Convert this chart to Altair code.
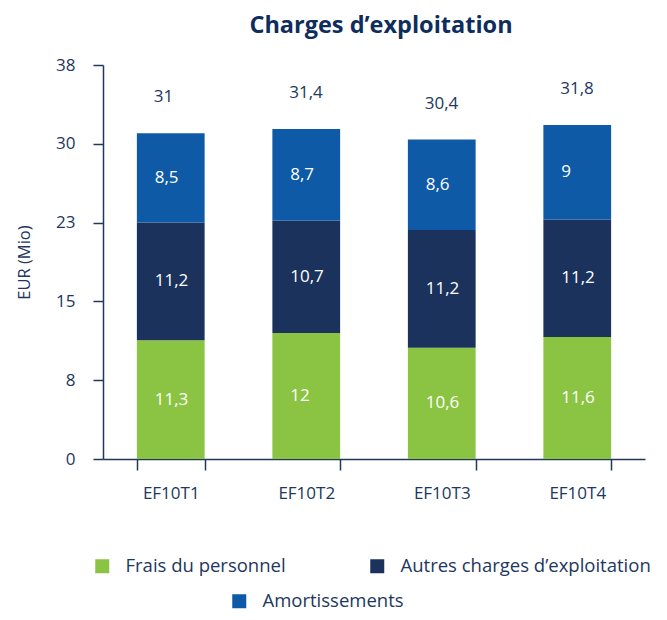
import altair as alt
import pandas as pd

quarters = ["EF10T1", "EF10T2", "EF10T3", "EF10T4"]
categories = ["Frais du personnel", "Autres charges d’exploitation", "Amortissements"]
frais = [11.3, 12, 10.6, 11.6]
autres = [11.2, 10.7, 11.2, 11.2]
amort = [8.5, 8.7, 8.6, 9]
colors = ["#8BC442", "#1B335C", "#0E5AA7"]
y_ticks = [0, 7.5, 15, 22.5, 30, 37.5]

NAVY = "#22375E"
FONT = "Open Sans"


def fr(v):
    return f"{v:g}".replace(".", ",")


rows = []
for series_i, series in enumerate([frais, autres, amort]):
    for q, v in zip(quarters, series):
        rows.append({"quarter": q, "category": categories[series_i], "value": v,
                     "order": series_i, "label": fr(v)})
df = pd.DataFrame(rows)

totals = [round(a + b + c, 1) for a, b, c in zip(frais, autres, amort)]
tdf = pd.DataFrame({"quarter": quarters, "total": totals, "tlabel": [fr(t) for t in totals]})

x_enc = alt.X("quarter:N", sort=quarters,
              scale=alt.Scale(paddingInner=0.5, paddingOuter=0.25),
              axis=alt.Axis(title=None, labelAngle=0, tickBand="extent", tickSize=11,
                            labelPadding=15, labelFontSize=17, labelColor=NAVY,
                            domainColor=NAVY, tickColor=NAVY, domainWidth=1.5, tickWidth=1.5,
                            labelFont=FONT))
y_scale = alt.Scale(domain=[0, 37.5], nice=False)
y_axis = alt.Axis(title="EUR (Mio)", values=y_ticks, format=".0f", grid=False,
                  tickSize=10, labelPadding=18, labelFontSize=17, labelColor=NAVY,
                  domainColor=NAVY, tickColor=NAVY, domainWidth=1.5, tickWidth=1.5,
                  titleFontSize=16.5, titleFontWeight="normal", titleColor=NAVY,
                  titlePadding=23, labelFont=FONT, titleFont=FONT)

base = alt.Chart(df).transform_stack(
    stack="value", groupby=["quarter"], as_=["y0", "y1"], sort=[alt.SortField("order")]
)

legend_pos = [(-10, 492), (265, 492), (127, 527)]

layers = []
for i, cat in enumerate(categories):
    lx, ly = legend_pos[i]
    layer = base.transform_filter(alt.datum.category == cat).mark_bar().encode(
        x=x_enc,
        y=alt.Y("y0:Q", scale=y_scale, axis=y_axis),
        y2="y1:Q",
        color=alt.Color("category:N",
                        scale=alt.Scale(domain=[cat], range=[colors[i]]),
                        legend=alt.Legend(title=None, orient="none", legendX=lx, legendY=ly,
                                          symbolType="square", symbolSize=196,
                                          symbolStrokeWidth=0, labelFontSize=18.5,
                                          labelColor=NAVY, labelFont=FONT,
                                          labelOffset=14, padding=0, labelLimit=400)),
    )
    layers.append(layer)

seg_text = base.transform_calculate(mid="(datum.y0 + datum.y1) / 2").mark_text(
    align="left", dx=-16, baseline="middle", color="white", fontSize=17, font=FONT
).encode(x=x_enc, y=alt.Y("mid:Q", scale=y_scale), text="label:N")

tot_text = alt.Chart(tdf).mark_text(
    align="left", dx=-17, dy=-36, baseline="middle", color=NAVY, fontSize=17, font=FONT
).encode(x=x_enc, y=alt.Y("total:Q", scale=y_scale), text="tlabel:N")

chart = alt.layer(*layers, seg_text, tot_text).resolve_scale(
    color="independent"
).resolve_legend(color="independent").properties(
    width=542, height=394,
    autosize=alt.AutoSizeParams(type="none"),
    padding={"left": 95, "top": 57, "right": 12, "bottom": 153},
    title=alt.TitleParams("Charges d’exploitation", fontSize=23.5, font=FONT,
                          fontWeight="bold", color="#0F2D5C", anchor="middle",
                          dx=7, offset=19),
).configure_view(stroke=None)

chart.save("out.html", embed_options={"renderer": "svg", "actions": False})
